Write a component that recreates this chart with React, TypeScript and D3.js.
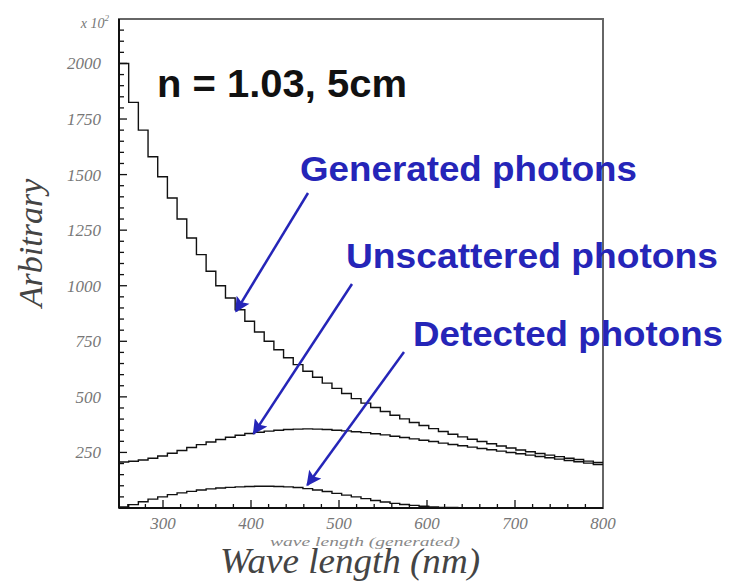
import React, { useEffect, useRef } from 'react'
import * as d3 from 'd3'

// histogram bins: 50 bins of 11 nm, 250..800 nm
const binLow = 250
const binWidth = 11

const generated = [2000, 1825, 1700, 1580, 1490, 1395, 1300, 1215, 1140, 1065, 1000, 945, 892, 840, 792, 750, 712, 676, 645, 615, 588, 562, 538, 515, 492, 472, 452, 434, 417, 401, 385, 371, 357, 344, 332, 320, 309, 299, 289, 279, 270, 261, 253, 245, 238, 231, 224, 218, 211, 205]
const unscattered = [207, 210, 216, 224, 234, 246, 259, 272, 285, 297, 308, 318, 327, 335, 341, 346, 350, 353, 355, 356, 355, 353, 350, 347, 343, 339, 334, 329, 323, 317, 311, 305, 299, 292, 286, 280, 274, 268, 262, 256, 250, 244, 238, 232, 226, 220, 214, 208, 202, 196]
const detected = [5, 15, 28, 40, 50, 60, 68, 75, 81, 86, 90, 93, 95, 97, 98, 98, 97, 95, 92, 87, 81, 74, 66, 58, 50, 42, 34, 27, 21, 16, 12, 8, 5, 3, 2, 1, 0, 0, 0, 0, 0, 0, 0, 0, 0, 0, 0, 0, 0, 0]

const xTicks = [300, 400, 500, 600, 700, 800]
const yTicks = [250, 500, 750, 1000, 1250, 1500, 1750, 2000]

// annotation labels and the wavelength/value their arrows point at
const labels = [
  { text: 'Generated photons', x: 300, y: 181, len: 337, from: [308, 193], to: [383, 885] },
  { text: 'Unscattered photons', x: 346, y: 268, len: 372, from: [352, 284], to: [403, 335] },
  { text: 'Detected photons', x: 413, y: 346, len: 310, from: [404, 352], to: [464, 103] },
]

const blue = '#2525b8'

function App() {
  const ref = useRef<SVGSVGElement>(null)

  useEffect(() => {
    const width = 729
    const height = 583
    const margin = { top: 19, right: 126, bottom: 75, left: 119 }

    const svg = d3.select(ref.current)
    svg.selectAll('*').remove()

    const x = d3.scaleLinear().domain([250, 800]).range([margin.left, width - margin.right])
    const y = d3.scaleLinear().domain([0, 2200]).range([height - margin.bottom, margin.top])

    const defs = svg.append('defs')
    defs.append('marker')
      .attr('id', 'head')
      .attr('viewBox', '0 0 10 10')
      .attr('refX', 9)
      .attr('refY', 5)
      .attr('markerWidth', 7)
      .attr('markerHeight', 6)
      .attr('orient', 'auto')
      .attr('markerUnits', 'strokeWidth')
      .append('path')
      .attr('d', 'M0,0 L10,5 L0,10 L2,5 Z')
      .attr('fill', blue)

    // frame
    svg.append('rect')
      .attr('x', x(250))
      .attr('y', y(2200))
      .attr('width', x(800) - x(250))
      .attr('height', y(0) - y(2200))
      .attr('fill', 'none')
      .attr('stroke', '#666')
      .attr('stroke-width', 2)

    // histograms
    const hist = (vals: number[]) => {
      const pts: [number, number][] = vals.map((v, i) => [binLow + i * binWidth, v])
      pts.push([binLow + vals.length * binWidth, vals[vals.length - 1]])
      return d3.line<[number, number]>()
        .x(d => x(d[0]))
        .y(d => y(d[1]))
        .curve(d3.curveStepAfter)(pts)
    }
    for (const series of [generated, unscattered, detected]) {
      svg.append('path')
        .attr('d', hist(series))
        .attr('fill', 'none')
        .attr('stroke', '#111')
        .attr('stroke-width', 1.4)
    }

    // axes, ticks inward
    const axisG = svg.append('g').attr('stroke', '#111')
    axisG.append('line')
      .attr('x1', x(250)).attr('x2', x(800))
      .attr('y1', y(0)).attr('y2', y(0))
      .attr('stroke-width', 2)
    axisG.append('line')
      .attr('x1', x(250)).attr('x2', x(250))
      .attr('y1', y(0)).attr('y2', y(2200))
      .attr('stroke-width', 2)

    axisG.selectAll('.xt')
      .data(d3.range(260, 800, 20))
      .join('line')
      .attr('x1', d => x(d)).attr('x2', d => x(d))
      .attr('y1', y(0))
      .attr('y2', d => y(0) - (d % 100 === 0 ? 8 : 4))
      .attr('stroke-width', 1.3)

    axisG.selectAll('.yt')
      .data(d3.range(50, 2200, 50))
      .join('line')
      .attr('y1', d => y(d)).attr('y2', d => y(d))
      .attr('x1', x(250))
      .attr('x2', d => x(250) + (d % 250 === 0 ? 8 : 5))
      .attr('stroke-width', 1.3)

    const serif = '"Liberation Serif", "DejaVu Serif", serif'

    svg.append('g')
      .selectAll('text')
      .data(xTicks)
      .join('text')
      .attr('x', d => x(d))
      .attr('y', y(0) + 21)
      .attr('text-anchor', 'middle')
      .attr('font-family', serif)
      .attr('font-style', 'italic')
      .attr('font-size', 17)
      .attr('fill', '#777')
      .text(d => d)

    svg.append('g')
      .selectAll('text')
      .data(yTicks)
      .join('text')
      .attr('x', x(250) - 18)
      .attr('y', d => y(d) + 6)
      .attr('text-anchor', 'end')
      .attr('font-family', serif)
      .attr('font-style', 'italic')
      .attr('font-size', 17)
      .attr('fill', '#777')
      .text(d => d)

    // multiplier
    const mult = svg.append('text')
      .attr('x', x(250) - 10)
      .attr('y', y(2200) + 9)
      .attr('text-anchor', 'end')
      .attr('font-family', serif)
      .attr('font-style', 'italic')
      .attr('font-size', 14)
      .attr('fill', '#777')
    mult.append('tspan').text('x 10')
    mult.append('tspan').attr('dy', -7).attr('font-size', 9).text('2')

    // axis titles (the small label sits on the big one, as in the original)
    svg.append('text')
      .attr('x', 270)
      .attr('y', 546)
      .attr('font-family', serif)
      .attr('font-style', 'italic')
      .attr('font-size', 13)
      .attr('textLength', 190)
      .attr('lengthAdjust', 'spacingAndGlyphs')
      .attr('fill', '#888')
      .text('wave length (generated)')

    svg.append('text')
      .attr('x', 220)
      .attr('y', 573)
      .attr('font-family', serif)
      .attr('font-style', 'italic')
      .attr('font-size', 35)
      .attr('textLength', 260)
      .attr('lengthAdjust', 'spacingAndGlyphs')
      .attr('fill', '#444')
      .text('Wave length (nm)')

    svg.append('text')
      .attr('transform', `translate(42,243) rotate(-90)`)
      .attr('text-anchor', 'middle')
      .attr('font-family', serif)
      .attr('font-style', 'italic')
      .attr('font-size', 34)
      .attr('fill', '#444')
      .text('Arbitrary')

    // title inside
    svg.append('text')
      .attr('x', 157)
      .attr('y', 97)
      .attr('font-family', '"Liberation Sans", Arial, sans-serif')
      .attr('font-weight', 'bold')
      .attr('font-size', 38)
      .attr('textLength', 250)
      .attr('lengthAdjust', 'spacingAndGlyphs')
      .attr('fill', '#111')
      .text('n = 1.03, 5cm')

    // annotations
    const ann = svg.append('g')
    for (const l of labels) {
      ann.append('text')
        .attr('x', l.x)
        .attr('y', l.y)
        .attr('font-family', '"Liberation Sans", Arial, sans-serif')
        .attr('font-weight', 'bold')
        .attr('font-size', 35)
        .attr('textLength', l.len)
        .attr('lengthAdjust', 'spacingAndGlyphs')
        .attr('fill', blue)
        .text(l.text)
      ann.append('line')
        .attr('x1', l.from[0])
        .attr('y1', l.from[1])
        .attr('x2', x(l.to[0]))
        .attr('y2', y(l.to[1]))
        .attr('stroke', blue)
        .attr('stroke-width', 2.5)
        .attr('marker-end', 'url(#head)')
    }
  }, [])

  return (
    <svg ref={ref} width={729} height={583}
      style={{ position: 'absolute', left: 0, top: 0, background: '#fff' }} />
  )
}

export default App
